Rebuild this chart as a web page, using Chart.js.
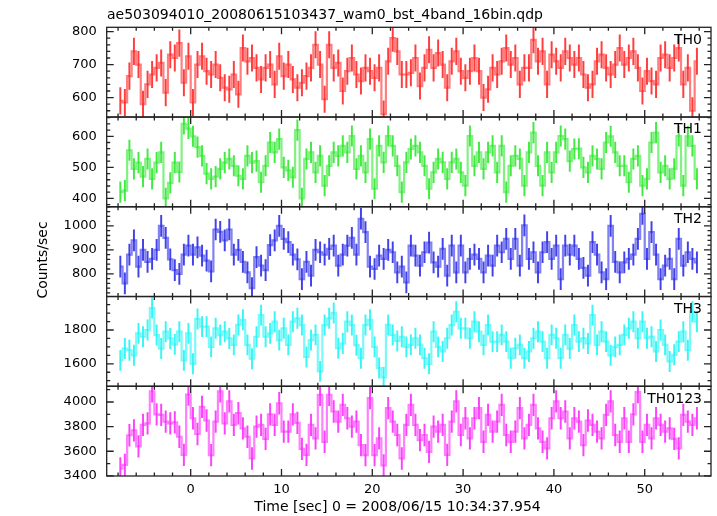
<!DOCTYPE html>
<html>
<head>
<meta charset="utf-8">
<title>ae503094010 light curve</title>
<script src="https://cdn.jsdelivr.net/npm/chart.js@4.4.1/dist/chart.umd.min.js"></script>
<style>
    html, body { margin: 0; padding: 0; background: #fff; }
    #wrap { position: relative; width: 717px; height: 516px; }
</style>
</head>
<body>
<div id="wrap"><canvas id="lc" width="717" height="516"></canvas></div>
<script>
// Light curves, 0.5 s bins (counts/sec)
const firstBin = -7.75;   // centre of first bin, sec
const binWidth = 0.5;

const th0 = [
    590, 585, 665, 740, 700, 580, 640, 670, 690, 705, 615, 730, 720, 765, 645, 725, 585, 700, 725, 680, 670, 700, 660, 630, 625, 670, 610, 750, 710, 720, 690,
    655, 690, 700, 640, 725, 665, 700, 655, 630, 645, 665, 690, 760, 700, 595, 760, 690, 705, 620, 680, 720, 670, 650, 690, 680, 660, 690, 550, 710, 780, 740, 670, 670,
    675, 720, 635, 690, 745, 690, 735, 700, 630, 710, 740, 680, 660, 680, 720, 680, 600, 625, 690, 670, 710, 750, 700, 720, 640, 690, 690, 775, 710, 740, 640, 730, 710,
    690, 740, 720, 700, 720, 670, 630, 640, 710, 730, 690, 670, 700, 750, 700, 720, 740, 690, 620, 680, 650, 640, 720, 730, 690, 720, 750, 640, 690, 560, 710
];
const th1 = [
    420, 425, 555, 495, 515, 470, 527, 463, 515, 548, 400, 450, 515, 485, 640, 625, 600, 565, 537, 480, 463, 470, 495, 515, 527, 505, 473, 463, 537, 515, 520,
    452, 505, 580, 548, 591, 500, 490, 468, 620, 400, 527, 548, 484, 537, 441, 505, 548, 537, 569, 548, 601, 495, 537, 484, 591, 431, 569, 516, 601, 569, 505, 420, 516,
    559, 569, 548, 505, 431, 484, 527, 516, 463, 516, 527, 484, 441, 601, 505, 548, 495, 548, 569, 484, 569, 420, 505, 537, 527, 441, 548, 612, 505, 441, 548, 484, 548,
    601, 591, 520, 559, 560, 500, 484, 537, 527, 495, 580, 600, 548, 505, 505, 452, 527, 537, 441, 463, 580, 612, 484, 505, 463, 495, 601, 441, 600, 569, 463
];
const th2 = [
    830, 760, 880, 940, 830, 900, 850, 862, 900, 1000, 950, 860, 815, 800, 880, 918, 880, 910, 876, 855, 810, 985, 975, 940, 985, 880, 900, 850, 806, 740, 870,
    834, 815, 920, 940, 1000, 946, 932, 880, 860, 778, 850, 792, 900, 890, 880, 904, 918, 834, 880, 918, 950, 880, 1030, 974, 830, 820, 876, 862, 900, 890, 806, 830, 764,
    918, 876, 834, 890, 930, 848, 830, 904, 792, 918, 806, 918, 806, 862, 880, 862, 806, 876, 834, 918, 890, 946, 862, 946, 834, 1002, 862, 890, 806, 890, 932, 862, 918,
    778, 918, 880, 918, 862, 825, 792, 932, 880, 806, 778, 1000, 850, 806, 848, 862, 880, 946, 1050, 862, 974, 880, 778, 834, 862, 778, 946, 834, 890, 862, 848
];
const th3 = [
    1620, 1690, 1680, 1650, 1780, 1760, 1800, 1930, 1770, 1690, 1790, 1750, 1715, 1790, 1620, 1780, 1600, 1865, 1820, 1820, 1700, 1810, 1770, 1790, 1750, 1712, 1830, 1860, 1712, 1630, 1760,
    1888, 1760, 1780, 1849, 1740, 1810, 1712, 1849, 1869, 1829, 1640, 1740, 1771, 1555, 1829, 1869, 1900, 1692, 1720, 1849, 1829, 1710, 1633, 1829, 1860, 1700, 1575, 1520, 1830, 1771, 1735, 1760, 1700,
    1712, 1751, 1712, 1633, 1600, 1790, 1700, 1673, 1751, 1829, 1908, 1810, 1810, 1751, 1849, 1790, 1712, 1829, 1731, 1731, 1771, 1731, 1633, 1692, 1712, 1633, 1673, 1751, 1790, 1731, 1633, 1771, 1751,
    1633, 1771, 1690, 1829, 1731, 1751, 1720, 1888, 1712, 1790, 1731, 1650, 1700, 1712, 1771, 1810, 1849, 1751, 1849, 1751, 1760, 1673, 1800, 1712, 1614, 1653, 1731, 1790, 1680, 1908, 1849
];
const th0123 = [
    3460, 3490, 3730, 3770, 3640, 3814, 3827, 4087, 3900, 3896, 3841, 3827, 3835, 3718, 3570, 4060, 3868, 3740, 3960, 3850, 3568, 3841, 4087, 3827, 4005, 3814, 3909, 3786, 3718, 3541, 3800,
    3814, 3700, 3900, 3814, 3990, 3760, 3760, 3900, 3830, 3620, 3570, 3814, 3704, 4059, 3677, 4059, 3923, 3841, 3977, 3868, 3800, 3841, 3650, 3568, 4032, 3568, 3704, 3486, 3950, 3841, 3732, 3541, 3814,
    3977, 3814, 3690, 3732, 3595, 3800, 3759, 3814, 3570, 3841, 4005, 3732, 3868, 3704, 3868, 3950, 3677, 3896, 3759, 3841, 3977, 3732, 3677, 3760, 3950, 3704, 3814, 3977, 3786, 3677, 3623, 3868, 4005,
    3868, 3923, 3704, 3868, 3841, 3650, 3850, 3814, 3759, 3704, 3896, 4005, 3732, 3677, 3868, 3677, 3900, 4080, 3677, 3814, 3704, 3868, 3814, 3760, 3786, 3700, 3623, 3896, 3841, 3814, 3868
];

// typical 1-sigma error per band (counts/sec)
const errTH = [40, 33, 44, 60, 88];
const bandNames = ['TH0', 'TH1', 'TH2', 'TH3', 'TH0123'];

const times = th0.map((_, i) => firstBin + i * binWidth);

const FONT = '"DejaVu Sans", sans-serif';
const tickFont = { family: FONT, size: 13 };

// one entry per stacked panel, top to bottom
const panels = [
    { id: 'y0', values: th0,    min: 541,  max: 813,  major: 100, minor: 20,  color: [255, 40, 40] },
    { id: 'y1', values: th1,    min: 373,  max: 662,  major: 100, minor: 20,  color: [45, 232, 45] },
    { id: 'y2', values: th2,    min: 705,  max: 1080, major: 100, minor: 20,  color: [45, 45, 232] },
    { id: 'y3', values: th3,    min: 1467, max: 1998, major: 200, minor: 50,  color: [35, 245, 245] },
    { id: 'y4', values: th0123, min: 3399, max: 4128, major: 200, minor: 100, color: [252, 45, 252] }
];

const rgba = (c, a) => `rgba(${c[0]},${c[1]},${c[2]},${a})`;

const scales = {
    x: {
        type: 'linear',
        min: -9.25,
        max: 57.3,
        offset: false,
        grid: { display: false, drawTicks: false, offset: false },
        border: { display: false },
        ticks: { stepSize: 10, includeBounds: false, padding: 6, color: '#000', font: tickFont, maxRotation: 0, autoSkip: false, callback: v => String(v) },
        afterFit: s => { s.height = 40; }
    }
};
panels.forEach((p, i) => {
    scales[p.id] = {
        type: 'linear',
        position: 'left',
        stack: 'bands',
        stackWeight: 1,
        weight: panels.length - i,   // higher weight sits higher in the stack
        min: p.min,
        max: p.max,
        offset: false,
        grid: { display: false, drawTicks: false },
        border: { display: false },
        ticks: { stepSize: p.major, includeBounds: false, padding: 10, color: '#000', font: tickFont, autoSkip: false, callback: v => String(v) },
        afterFit: s => { s.width = 106.7; }
    };
});

const datasets = [];
panels.forEach((p, i) => {
    // error bars as thin floating bars
    datasets.push({
        type: 'bar',
        label: bandNames[i] + ' err',
        yAxisID: p.id,
        xAxisID: 'x',
        order: 1,
        grouped: false,
        barThickness: 1.3,
        borderWidth: 0,
        backgroundColor: rgba(p.color, 0.9),
        data: p.values.map((v, k) => ({ x: times[k], y: [v - errTH[i], v + errTH[i]] }))
    });
    // binned light curve as a histogram step (soft, wide risers like the qdp output)
    datasets.push({
        type: 'line',
        label: bandNames[i],
        yAxisID: p.id,
        xAxisID: 'x',
        order: 2,
        stepped: 'middle',
        borderColor: rgba(p.color, 0.6),
        borderWidth: 2.2,
        pointRadius: 0,
        fill: false,
        data: p.values.map((v, k) => ({ x: times[k], y: v }))
    });
});

// frames, inward ticks (major + minor) and the texts, QDP style
const qdpFrame = {
    id: 'qdpFrame',
    beforeDatasetDraw(chart, args) {
        const s = chart.scales[args.meta.yAxisID];
        const a = chart.chartArea;
        const ctx = chart.ctx;
        ctx.save();
        ctx.beginPath();
        ctx.rect(a.left, s.top, a.right - a.left, s.bottom - s.top);
        ctx.clip();
    },
    afterDatasetDraw(chart) {
        chart.ctx.restore();
    },
    afterDraw(chart) {
        const { ctx, chartArea: a, scales: sc } = chart;
        const x = sc.x;
        ctx.save();
        ctx.strokeStyle = '#222';
        ctx.lineWidth = 1.3;

        panels.forEach((p, i) => {
            const y = sc[p.id];
            ctx.strokeRect(a.left, y.top, a.right - a.left, y.bottom - y.top);

            ctx.beginPath();
            // time ticks on top and bottom edges
            for (let t = Math.ceil(x.min / 2) * 2; t <= x.max; t += 2) {
                const px = x.getPixelForValue(t);
                const len = t % 10 === 0 ? 7 : 3.5;
                ctx.moveTo(px, y.top); ctx.lineTo(px, y.top + len);
                ctx.moveTo(px, y.bottom); ctx.lineTo(px, y.bottom - len);
            }
            // count ticks on left and right edges
            for (let v = Math.ceil(p.min / p.minor) * p.minor; v <= p.max; v += p.minor) {
                const py = y.getPixelForValue(v);
                const len = v % p.major === 0 ? 7 : 3.5;
                ctx.moveTo(a.left, py); ctx.lineTo(a.left + len, py);
                ctx.moveTo(a.right, py); ctx.lineTo(a.right - len, py);
            }
            ctx.stroke();

            // band name, top right of the panel
            ctx.fillStyle = '#000';
            ctx.font = '14px ' + FONT;
            ctx.textAlign = 'right';
            ctx.textBaseline = 'alphabetic';
            ctx.fillText(bandNames[i], a.right - 9, y.top + 16.3);
        });

        ctx.fillStyle = '#000';
        ctx.font = '14px ' + FONT;
        ctx.textBaseline = 'alphabetic';
        ctx.textAlign = 'left';
        ctx.fillText('ae503094010_20080615103437_wam0_bst_4band_16bin.qdp', 107, 19.3);

        ctx.textAlign = 'center';
        ctx.fillText('Time [sec] 0 = 2008/06/15 10:34:37.954', 397.5, 511);

        ctx.translate(46.5, 260);
        ctx.rotate(-Math.PI / 2);
        ctx.fillText('Counts/sec', 0, 0);
        ctx.restore();
    }
};

new Chart(document.getElementById('lc'), {
    type: 'line',
    data: { datasets },
    options: {
        responsive: false,
        animation: false,
        devicePixelRatio: 1,
        layout: { padding: { top: 27.3, right: 6, bottom: 0, left: 0 } },
        plugins: { legend: { display: false }, tooltip: { enabled: false }, title: { display: false } },
        scales
    },
    plugins: [qdpFrame]
});
</script>
</body>
</html>
